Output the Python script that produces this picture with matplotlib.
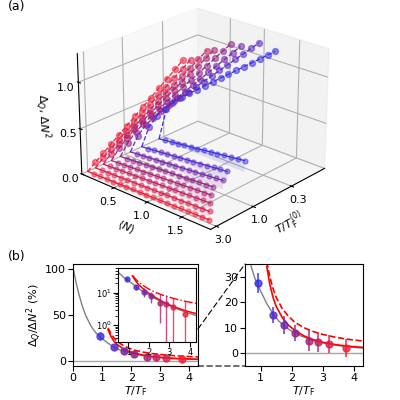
import numpy as np
import matplotlib
matplotlib.use("Agg")
import matplotlib.pyplot as plt
from matplotlib.colors import LinearSegmentedColormap
from matplotlib.patches import ConnectionPatch
from mpl_toolkits.mplot3d.art3d import Poly3DCollection

# ---------- data (a) ----------
T_levels = [3.0, 2.4, 1.9, 1.5, 1.15, 0.85, 0.6, 0.35]
N_grid = [0.0, 0.1, 0.2, 0.3, 0.4, 0.5, 0.6, 0.7, 0.8, 0.9, 1.0, 1.1, 1.2, 1.3, 1.4, 1.5, 1.6, 1.7, 1.8]
fast_amp = [0.0, 0.03, 0.06, 0.1, 0.14, 0.18, 0.25, 0.35]
fast_scale = [0.2, 0.2, 0.2, 0.18, 0.16, 0.14, 0.12, 0.08]
slow_slope = [1.0, 0.95, 0.9, 0.85, 0.78, 0.7, 0.6, 0.42]
N_upper_max = [1.2, 1.25, 1.3, 1.35, 1.4, 1.45, 1.5, 1.5]
N_lower_max = [1.8, 1.7, 1.6, 1.5, 1.45, 1.4, 1.35, 1.3]
dq_slope = [0.02, 0.03, 0.04, 0.05, 0.06, 0.07, 0.08, 0.1]

# ---------- data (b) ----------
T_pts = [0.93, 1.4, 1.75, 2.1, 2.55, 2.85, 3.2, 3.75]
R_pts = [27.5, 15.0, 11.0, 8.0, 5.0, 4.5, 3.6, 2.2]
R_err = [4.0, 3.0, 3.5, 3.0, 4.0, 4.0, 3.5, 3.5]
inset_lo = [4.0, 3.0, 3.5, 3.0, 3.8, 4.2, 3.5, 2.2]
gray_T = [0.0, 0.1, 0.2, 0.3, 0.4, 0.5, 0.6, 0.7, 0.8, 0.9, 1.0, 1.2, 1.4, 1.6, 1.8, 2.0, 2.3, 2.6, 3.0, 3.5, 4.0, 4.3]
gray_R = [100, 85, 72, 61, 52, 45, 39, 34, 30, 27, 24.5, 19.5, 15.5, 12.5, 10.3, 8.7, 6.8, 5.4, 4.1, 3.0, 2.3, 2.0]
red_T = [1.2, 1.3, 1.4, 1.5, 1.7, 1.9, 2.1, 2.4, 2.7, 3.0, 3.4, 3.8, 4.3]
red_R = [34, 27, 22, 18.5, 14, 11, 9, 6.8, 5.3, 4.3, 3.4, 2.8, 2.3]
redd_R = [36, 30, 25.5, 22, 17.5, 14.5, 12.2, 10, 8.5, 7.4, 6.3, 5.5, 4.8]

cmap = LinearSegmentedColormap.from_list("rb", ["#f0203a", "#a0207a", "#3a2ee8"])
cols = [cmap(i / 7) for i in range(8)]
cols_b = [cols[7 - i] for i in range(8)]

fig = plt.figure(figsize=(4, 4), dpi=100)

ax3 = fig.add_axes([-0.03, 0.37, 1.06, 0.68], projection="3d")
ax3.view_init(elev=24, azim=-48)
ax3.zaxis._axinfo["juggled"] = (1, 2, 0)
for i, T in enumerate(T_levels):
    y0 = -np.log10(T)
    c = cols[i]
    N = np.array([n for n in N_grid if n <= N_lower_max[i] + 1e-9])
    zq = dq_slope[i] * N
    yy = np.full_like(N, y0)
    verts = [list(zip(N, yy, zq)) + [(N[-1], y0, 0), (0, y0, 0)]]
    ax3.add_collection3d(Poly3DCollection(verts, facecolor=c, alpha=0.12, edgecolor="none"))
    ax3.plot(N, yy, zq, color=c, lw=0.9)
    ax3.scatter(N[1:], yy[1:], zq[1:], color=c, s=12, alpha=0.5,
                depthshade=False, edgecolors=c)
    Nu = np.array([n for n in N_grid if n <= N_upper_max[i] + 1e-9])
    zu = fast_amp[i] * np.tanh(Nu / fast_scale[i]) + slow_slope[i] * Nu
    xu = 0.64 * Nu
    yu = y0 + 0.5 * Nu
    ax3.plot(xu, yu, zu, color=c, lw=0.9, ls="--")
    ax3.scatter(xu[1:], yu[1:], zu[1:], color=c, s=18, alpha=0.55,
                depthshade=False, edgecolors=c)
ax3.set_xlim(0, 1.9)
ax3.set_ylim(-0.55, 1.0)
ax3.set_zlim(0, 1.3)
ax3.set_xticks([0.5, 1.0, 1.5])
ax3.set_yticks([-np.log10(3.0), 0.0, -np.log10(0.3)])
ax3.set_yticklabels(["3.0", "1.0", "0.3"])
ax3.set_zticks([0, 0.5, 1.0])
ax3.set_xlabel(r"$\langle N\rangle$", fontsize=8, labelpad=-6)
ax3.set_ylabel(r"$T/T_{\rm F}^{(0)}$", fontsize=8, labelpad=-6)
ax3.set_zlabel(r"$\Delta_Q,\, \Delta N^2$", fontsize=8, labelpad=-6)
ax3.tick_params(labelsize=8, pad=-3)
fig.text(0.02, 0.975, "(a)", fontsize=9)

# (b) left
axl = fig.add_axes([0.183, 0.085, 0.312, 0.255])
axl.plot(gray_T, gray_R, color="gray", lw=1)
axl.axhline(0, color="gray", lw=1, alpha=0.7)
axl.plot(red_T, red_R, color="red", lw=1.2)
axl.plot(red_T, redd_R, color="red", lw=1.2, ls="--")
for t, r, e, c in zip(T_pts, R_pts, R_err, cols_b):
    axl.errorbar(t, r, yerr=e, fmt="o", color=c, ms=5, alpha=0.8, lw=1)
axl.set_xlim(0, 4.3)
axl.set_ylim(-5, 105)
axl.set_yticks([0, 50, 100])
axl.set_xticks([0, 1, 2, 3, 4])
axl.set_xlabel(r"$T/T_{\rm F}$", fontsize=8, labelpad=1)
axl.set_ylabel(r"$\Delta_Q/\Delta N^2$ (%)", fontsize=8, labelpad=1)
axl.tick_params(labelsize=8, pad=1.5)
fig.text(0.02, 0.35, "(b)", fontsize=9)

# inset
axi = fig.add_axes([0.295, 0.145, 0.195, 0.185])
axi.plot(gray_T, gray_R, color="gray", lw=1)
axi.plot(red_T, red_R, color="red", lw=1.1)
axi.plot(red_T, redd_R, color="red", lw=1.0, ls="-.")
for t, r, e, lo, c in zip(T_pts, R_pts, R_err, inset_lo, cols_b):
    axi.errorbar(t, r, yerr=[[min(lo, r * 0.97)], [e]], fmt="o", color=c, ms=3.5, alpha=0.8, lw=1)
axi.set_yscale("log")
axi.set_xlim(0.5, 4.3)
axi.set_ylim(0.3, 60)
axi.set_xticks([1, 2, 3, 4])
axi.tick_params(labelsize=6, pad=1)

# right
axr = fig.add_axes([0.6125, 0.085, 0.295, 0.255])
axr.plot(gray_T, gray_R, color="gray", lw=1)
axr.axhline(0, color="gray", lw=1, alpha=0.7)
axr.plot(red_T, red_R, color="red", lw=1.2)
axr.plot(red_T, redd_R, color="red", lw=1.2, ls="--")
for t, r, e, c in zip(T_pts, R_pts, R_err, cols_b):
    axr.errorbar(t, r, yerr=e, fmt="o", color=c, ms=5, alpha=0.8, lw=1.3)
axr.set_xlim(0.5, 4.3)
axr.set_ylim(-5, 35)
axr.set_yticks([0, 10, 20, 30])
axr.set_xticks([1, 2, 3, 4])
axr.set_xlabel(r"$T/T_{\rm F}$", fontsize=8, labelpad=1)
axr.tick_params(labelsize=8, pad=1.5)

for (ya, yb) in [(35, 35), (-5, -5)]:
    cp = ConnectionPatch((4.3, ya), (0.5, yb), "data", "data", axesA=axl, axesB=axr,
                         color="k", lw=0.8, ls=(0, (5, 3)))
    fig.add_artist(cp)

fig.savefig("out.png", dpi=100)
